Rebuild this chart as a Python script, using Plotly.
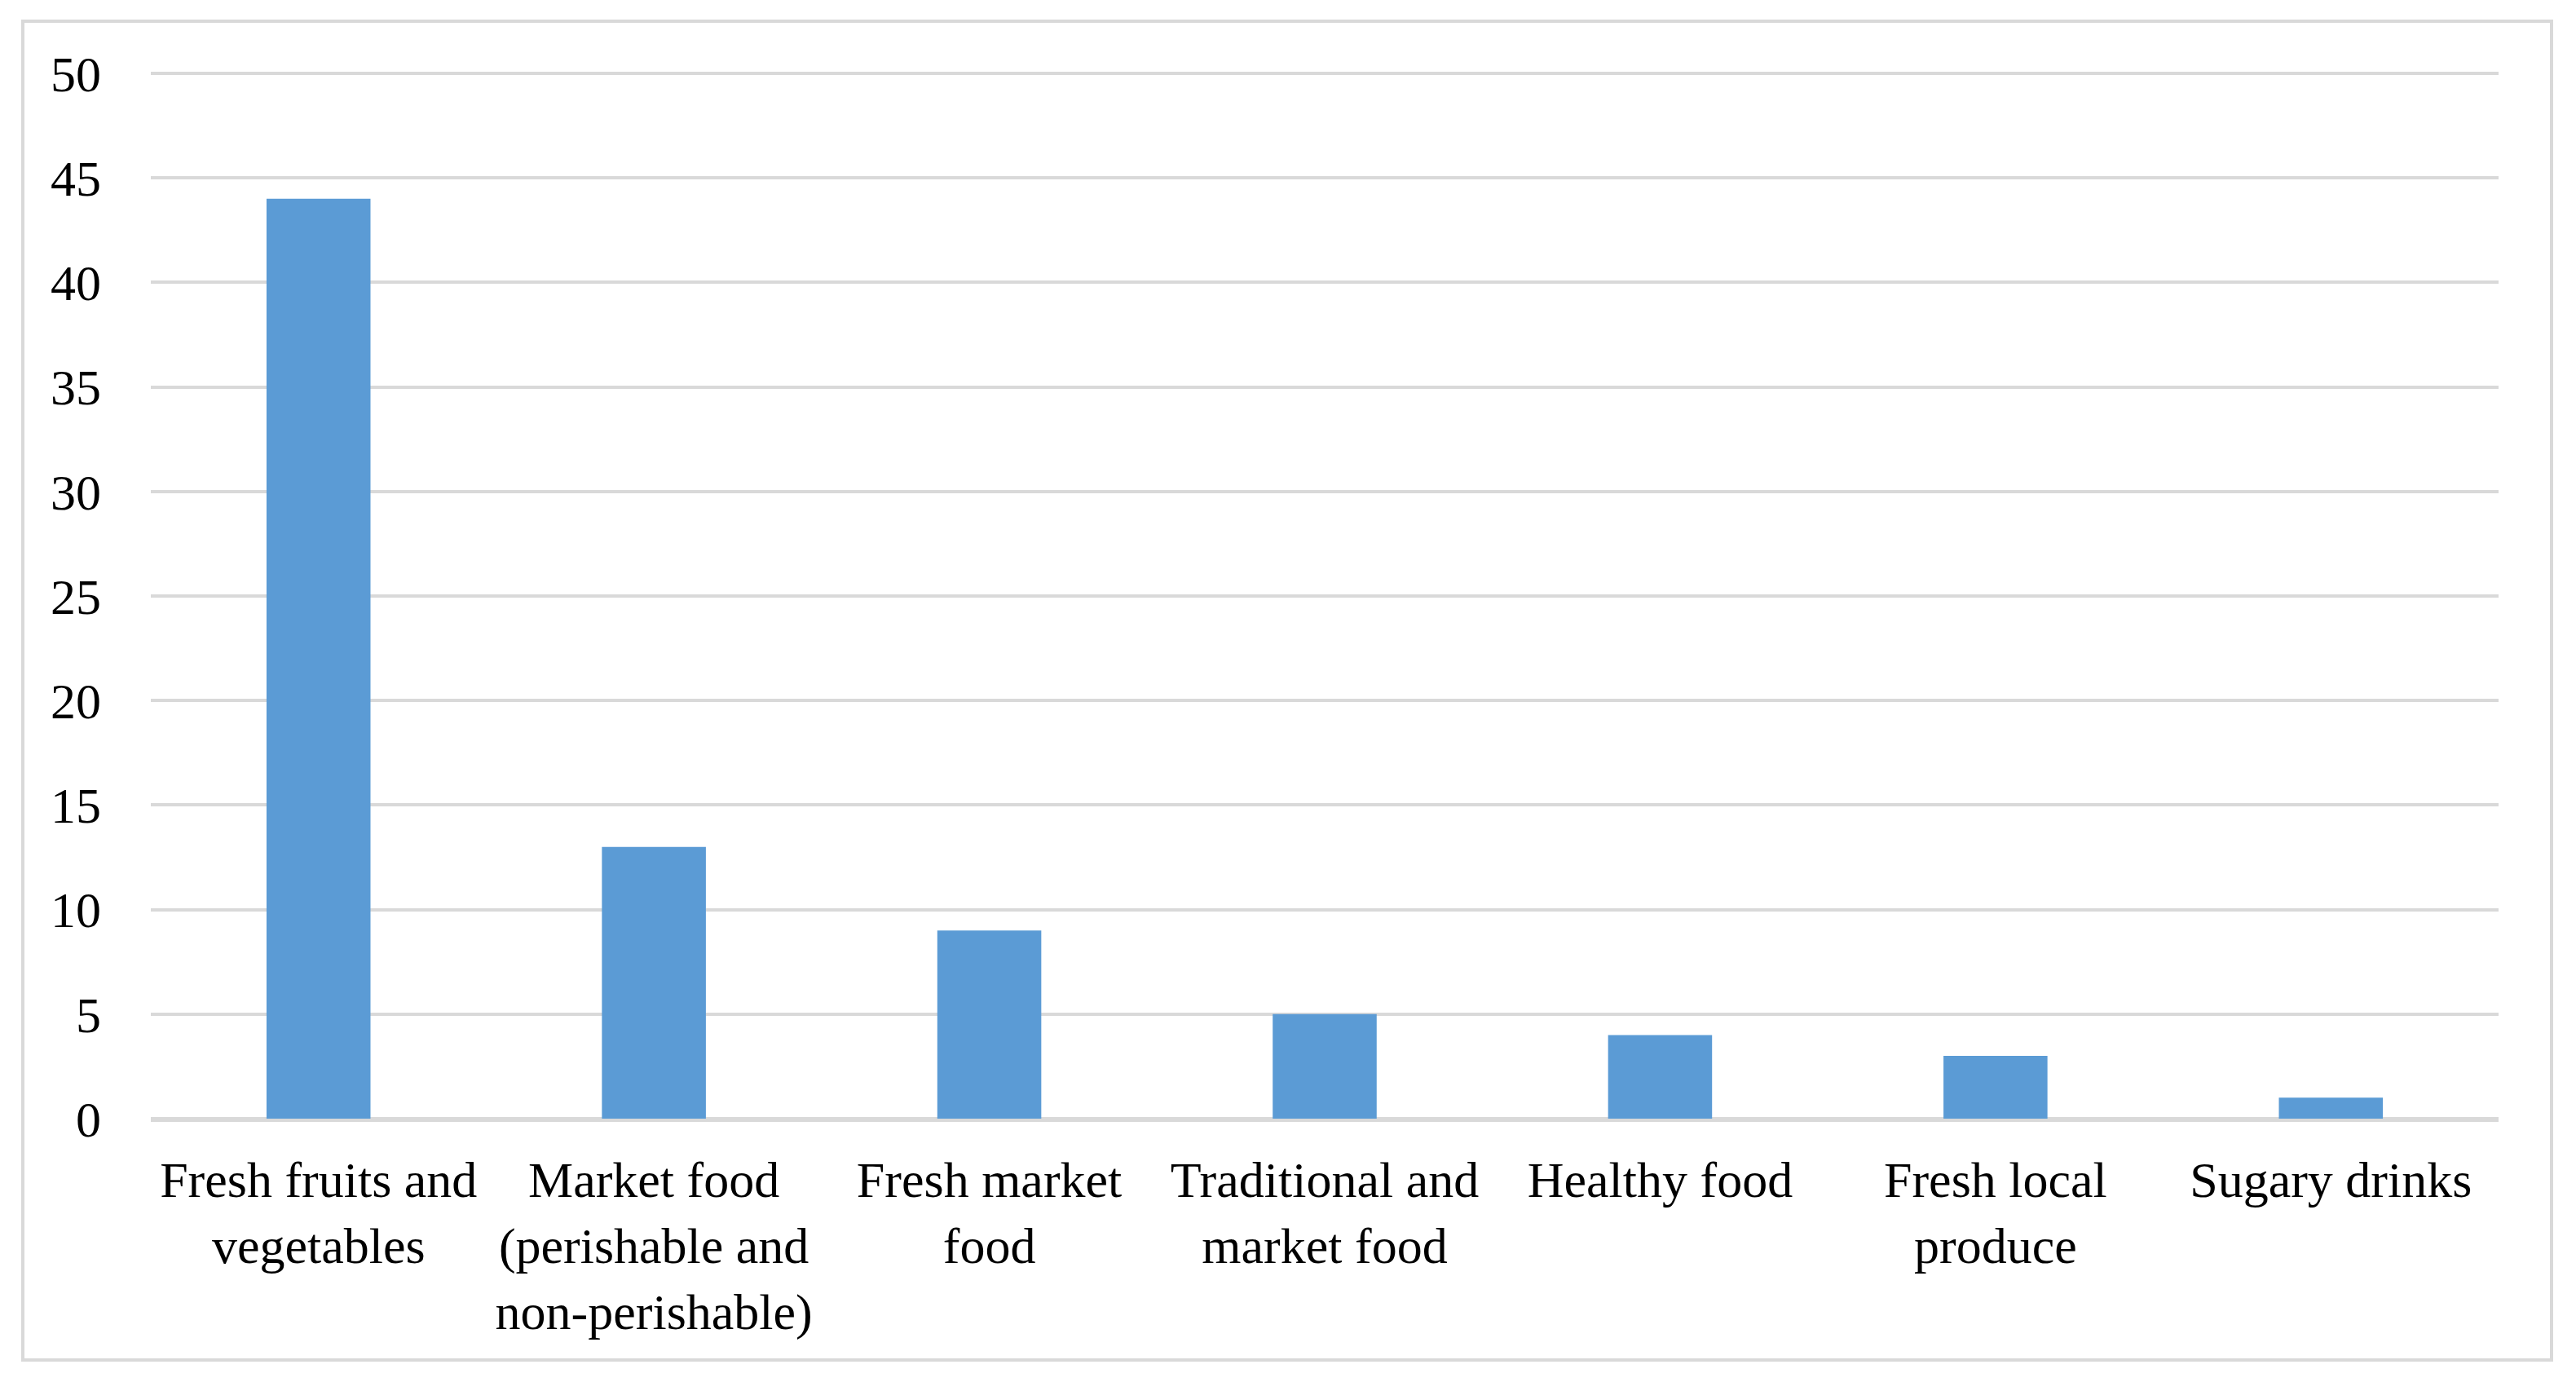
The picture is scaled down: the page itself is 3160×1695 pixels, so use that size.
import plotly.graph_objects as go

categories = [
    "Fresh fruits and<br>vegetables",
    "Market food<br>(perishable and<br>non-perishable)",
    "Fresh market<br>food",
    "Traditional and<br>market food",
    "Healthy food",
    "Fresh local<br>produce",
    "Sugary drinks",
]
values = [44, 13, 9, 5, 4, 3, 1]
y_ticks = [0, 5, 10, 15, 20, 25, 30, 35, 40, 45, 50]

W, H = 3160, 1695
OFF = 8  # page body margin
ml, mr, mt, mb = 185 - OFF, 95 + OFF, 89 - OFF, 323 + OFF
pw, ph = W - ml - mr, H - mt - mb

def px_x(x):
    return (x - OFF - ml) / pw

def px_y(y):
    return (H - mb - (y - OFF)) / ph

fig = go.Figure(go.Bar(x=categories, y=values, marker_color="#5b9bd5",
                       marker_line_width=0))

fig.update_layout(
    width=W, height=H,
    margin=dict(l=ml, r=mr, t=mt, b=mb),
    paper_bgcolor="white", plot_bgcolor="white",
    bargap=0.69,
    showlegend=False,
    font=dict(family="Liberation Serif, Times New Roman, serif", size=62, color="#000000"),
    shapes=[dict(type="rect", xref="paper", yref="paper",
                 x0=px_x(28), x1=px_x(3130), y0=px_y(1668), y1=px_y(26),
                 line=dict(color="#d9d9d9", width=4), layer="below")],
)
fig.update_xaxes(showgrid=False, showline=True, linecolor="#d9d9d9", linewidth=4,
                 ticks="outside", ticklen=18, tickcolor="rgba(0,0,0,0)",
                 tickfont=dict(size=62))
fig.update_yaxes(range=[0, 50.04], tickvals=y_ticks, showgrid=True, gridcolor="#d9d9d9",
                 gridwidth=4, zeroline=True, zerolinecolor="#d9d9d9", zerolinewidth=4,
                 showline=False, ticks="", ticklabelstandoff=60, tickfont=dict(size=62))

fig.write_html("out.html")
